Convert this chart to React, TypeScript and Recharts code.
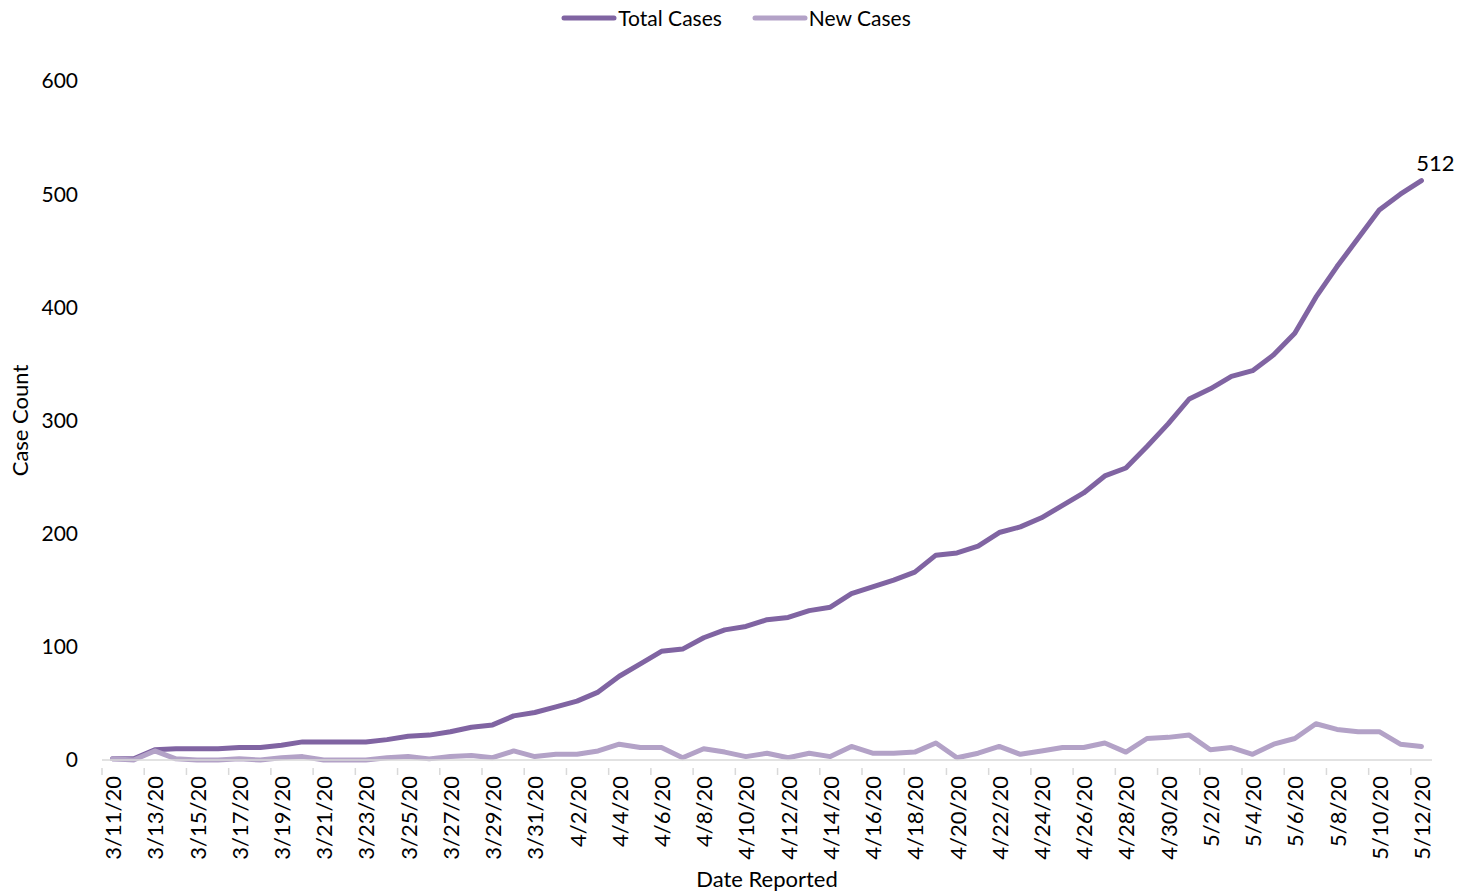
import { LineChart, Line, XAxis, YAxis, LabelList } from "recharts";

const dates = [
  "3/11/20", "3/12/20", "3/13/20", "3/14/20", "3/15/20", "3/16/20", "3/17/20", "3/18/20",
  "3/19/20", "3/20/20", "3/21/20", "3/22/20", "3/23/20", "3/24/20", "3/25/20", "3/26/20",
  "3/27/20", "3/28/20", "3/29/20", "3/30/20", "3/31/20", "4/1/20", "4/2/20", "4/3/20",
  "4/4/20", "4/5/20", "4/6/20", "4/7/20", "4/8/20", "4/9/20", "4/10/20", "4/11/20",
  "4/12/20", "4/13/20", "4/14/20", "4/15/20", "4/16/20", "4/17/20", "4/18/20", "4/19/20",
  "4/20/20", "4/21/20", "4/22/20", "4/23/20", "4/24/20", "4/25/20", "4/26/20", "4/27/20",
  "4/28/20", "4/29/20", "4/30/20", "5/1/20", "5/2/20", "5/3/20", "5/4/20", "5/5/20",
  "5/6/20", "5/7/20", "5/8/20", "5/9/20", "5/10/20", "5/11/20", "5/12/20",
];

const totalCases = [
  1, 1, 9, 10, 10, 10, 11, 11, 13, 16, 16, 16, 16, 18, 21, 22, 25, 29, 31, 39, 42,
  47, 52, 60, 74, 85, 96, 98, 108, 115, 118, 124, 126, 132, 135, 147, 153, 159, 166, 181,
  183, 189, 201, 206, 214, 225, 236, 251, 258, 277, 297, 319, 328, 339, 344, 358, 377, 409,
  436, 461, 486, 500, 512,
];

const newCases = [
  1, 0, 8, 1, 0, 0, 1, 0, 2, 3, 0, 0, 0, 2, 3, 1, 3, 4, 2, 8, 3,
  5, 5, 8, 14, 11, 11, 2, 10, 7, 3, 6, 2, 6, 3, 12, 6, 6, 7, 15,
  2, 6, 12, 5, 8, 11, 11, 15, 7, 19, 20, 22, 9, 11, 5, 14, 19, 32,
  27, 25, 25, 14, 12,
];

const yTicks = [0, 100, 200, 300, 400, 500, 600];

const data = dates.map((d, i) => ({ date: d, total: totalCases[i], daily: newCases[i] }));

const W = 1472;
const H = 895;
const FONT = "Lato, 'Open Sans', sans-serif";
const TOTAL_COLOR = "#8064a2";
const NEW_COLOR = "#b3a2c7";
const AXIS_GRAY = "#d9d9d9";
const PLOT_W = 1330;
const halfStep = PLOT_W / dates.length / 2;

const DateTick = (props: any) => {
  const { x, y, payload } = props;
  return (
    <g>
      <line x1={x - halfStep} y1={y} x2={x - halfStep} y2={y + 7} stroke={AXIS_GRAY} strokeWidth={1.5} />
      <text
        x={x}
        y={y + 8}
        transform={`rotate(-90, ${x}, ${y + 8})`}
        textAnchor="end"
        dominantBaseline="central"
        fontSize={22}
        fontFamily={FONT}
        fill="#000"
      >
        {payload.value}
      </text>
    </g>
  );
};

const LastLabel = (props: any) => {
  const { x, y, index, value } = props;
  if (index !== dates.length - 1) return null;
  return (
    <text x={x + 14} y={y - 10} textAnchor="middle" fontSize={22} fontFamily={FONT} fill="#000">
      {value}
    </text>
  );
};

export default function App() {
  return (
    <div style={{ position: "absolute", left: 0, top: 0, width: W, height: H, background: "#fff" }}>
      <LineChart width={W} height={H} data={data} margin={{ top: 81, right: 40, left: 0, bottom: 0 }}>
        <XAxis
          dataKey="date"
          interval={1}
          height={135}
          padding={{ left: halfStep, right: halfStep }}
          stroke={AXIS_GRAY}
          strokeWidth={1.5}
          tickLine={false}
          tick={<DateTick />}
          label={{
            content: (p: any) => {
              const vb = p.viewBox;
              return (
                <text x={vb.x + vb.width / 2} y={vb.y + vb.height - 8} textAnchor="middle" fontSize={22} fontFamily={FONT} fill="#000">
                  Date Reported
                </text>
              );
            },
          }}
        />
        <YAxis
          width={102}
          domain={[0, 600]}
          ticks={yTicks}
          axisLine={false}
          tickLine={false}
          tickSize={0}
          tickMargin={24}
          tick={{ fontSize: 21, fontFamily: FONT, fill: "#000" }}
          label={{
            content: (p: any) => {
              const vb = p.viewBox;
              const cx = vb.x + 19;
              const cy = vb.y + vb.height / 2;
              return (
                <text x={cx} y={cy} transform={`rotate(-90, ${cx}, ${cy})`} textAnchor="middle" dominantBaseline="central" fontSize={22} fontFamily={FONT} fill="#000">
                  Case Count
                </text>
              );
            },
          }}
        />
        <Line
          type="linear"
          dataKey="total"
          name="Total Cases"
          stroke={TOTAL_COLOR}
          strokeWidth={5}
          strokeLinecap="round"
          strokeLinejoin="round"
          dot={false}
          isAnimationActive={false}
        >
          <LabelList dataKey="total" content={<LastLabel />} />
        </Line>
        <Line
          type="linear"
          dataKey="daily"
          name="New Cases"
          stroke={NEW_COLOR}
          strokeWidth={5}
          strokeLinecap="round"
          strokeLinejoin="round"
          dot={false}
          isAnimationActive={false}
        />
      </LineChart>
      <div
        style={{
          position: "absolute",
          top: 5,
          left: 0,
          width: W,
          display: "flex",
          justifyContent: "center",
          gap: 30,
          fontFamily: FONT,
          fontSize: 21,
        }}
      >
        {[
          { label: "Total Cases", color: TOTAL_COLOR },
          { label: "New Cases", color: NEW_COLOR },
        ].map((item) => (
          <div key={item.label} style={{ display: "flex", alignItems: "center" }}>
            <svg width={56} height={10} style={{ marginRight: 1 }}>
              <line x1={3} y1={5} x2={53} y2={5} stroke={item.color} strokeWidth={5} strokeLinecap="round" />
            </svg>
            <span>{item.label}</span>
          </div>
        ))}
      </div>
    </div>
  );
}
